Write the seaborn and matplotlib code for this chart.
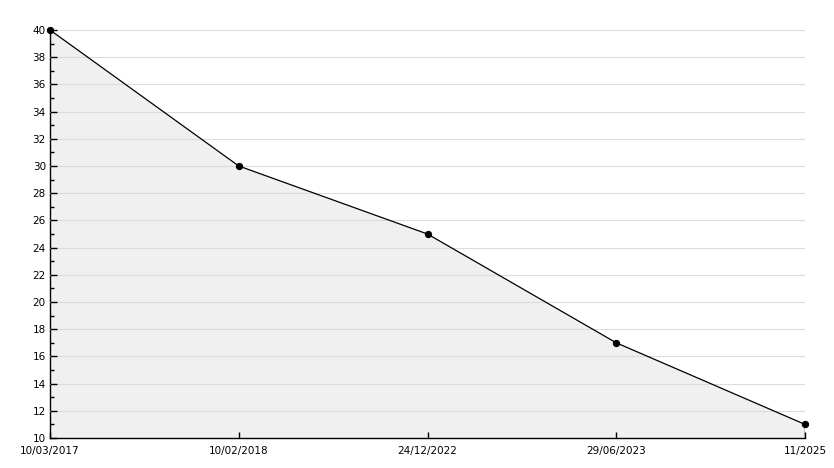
import numpy as np
import pandas as pd
import matplotlib
matplotlib.use("Agg")
import matplotlib.pyplot as plt
import seaborn as sns
from matplotlib.ticker import MultipleLocator

# data
dates = ["10/03/2017", "10/02/2018", "24/12/2022", "29/06/2023", "11/2025"]
values = [40, 30, 25, 17, 11]

df = pd.DataFrame({"pos": np.arange(len(dates)), "value": values})

sns.set_style("white")
plt.rcParams["font.family"] = ["DejaVu Sans"]

fig = plt.figure(figsize=(8.34, 4.68), dpi=100)
ax = fig.add_axes([50 / 834, 1 - 438 / 468, 755 / 834, 408 / 468])

# filled area under the line
ax.fill_between(df["pos"], df["value"], 10, color="#f0f0f0", zorder=1,
                edgecolor="none")
ax.vlines(df["pos"].iloc[-1], 10, df["value"].iloc[-1], color="black",
          linewidth=1, zorder=3)

sns.lineplot(data=df, x="pos", y="value", color="black", linewidth=0.9,
             marker="o", markersize=4.5, markeredgecolor="black", ax=ax,
             zorder=4, clip_on=False)

ax.set_xlim(0, len(dates) - 1)
ax.set_ylim(10, 40)
ax.yaxis.set_major_locator(MultipleLocator(2))
ax.yaxis.set_minor_locator(MultipleLocator(1))
ax.set_xticks(df["pos"])
ax.set_xticklabels(dates)

ax.grid(axis="y", which="major", color="#dcdcdc", linewidth=0.8, zorder=2)
ax.set_axisbelow(False)
for ln in ax.get_ygridlines():
    ln.set_zorder(2)

ax.tick_params(axis="y", which="major", direction="in", length=5, width=1,
               labelsize=7.5, pad=3, left=True, colors="black")
ax.tick_params(axis="y", which="minor", direction="in", length=3, width=1,
               left=True, colors="black")
ax.tick_params(axis="x", direction="in", length=4, width=1, labelsize=7.5,
               pad=6, bottom=True, colors="black")

for s in ["top", "right"]:
    ax.spines[s].set_visible(False)
for s in ["left", "bottom"]:
    ax.spines[s].set_color("black")
    ax.spines[s].set_linewidth(1)

ax.set_xlabel("")
ax.set_ylabel("")

fig.savefig("out.png", dpi=100)
